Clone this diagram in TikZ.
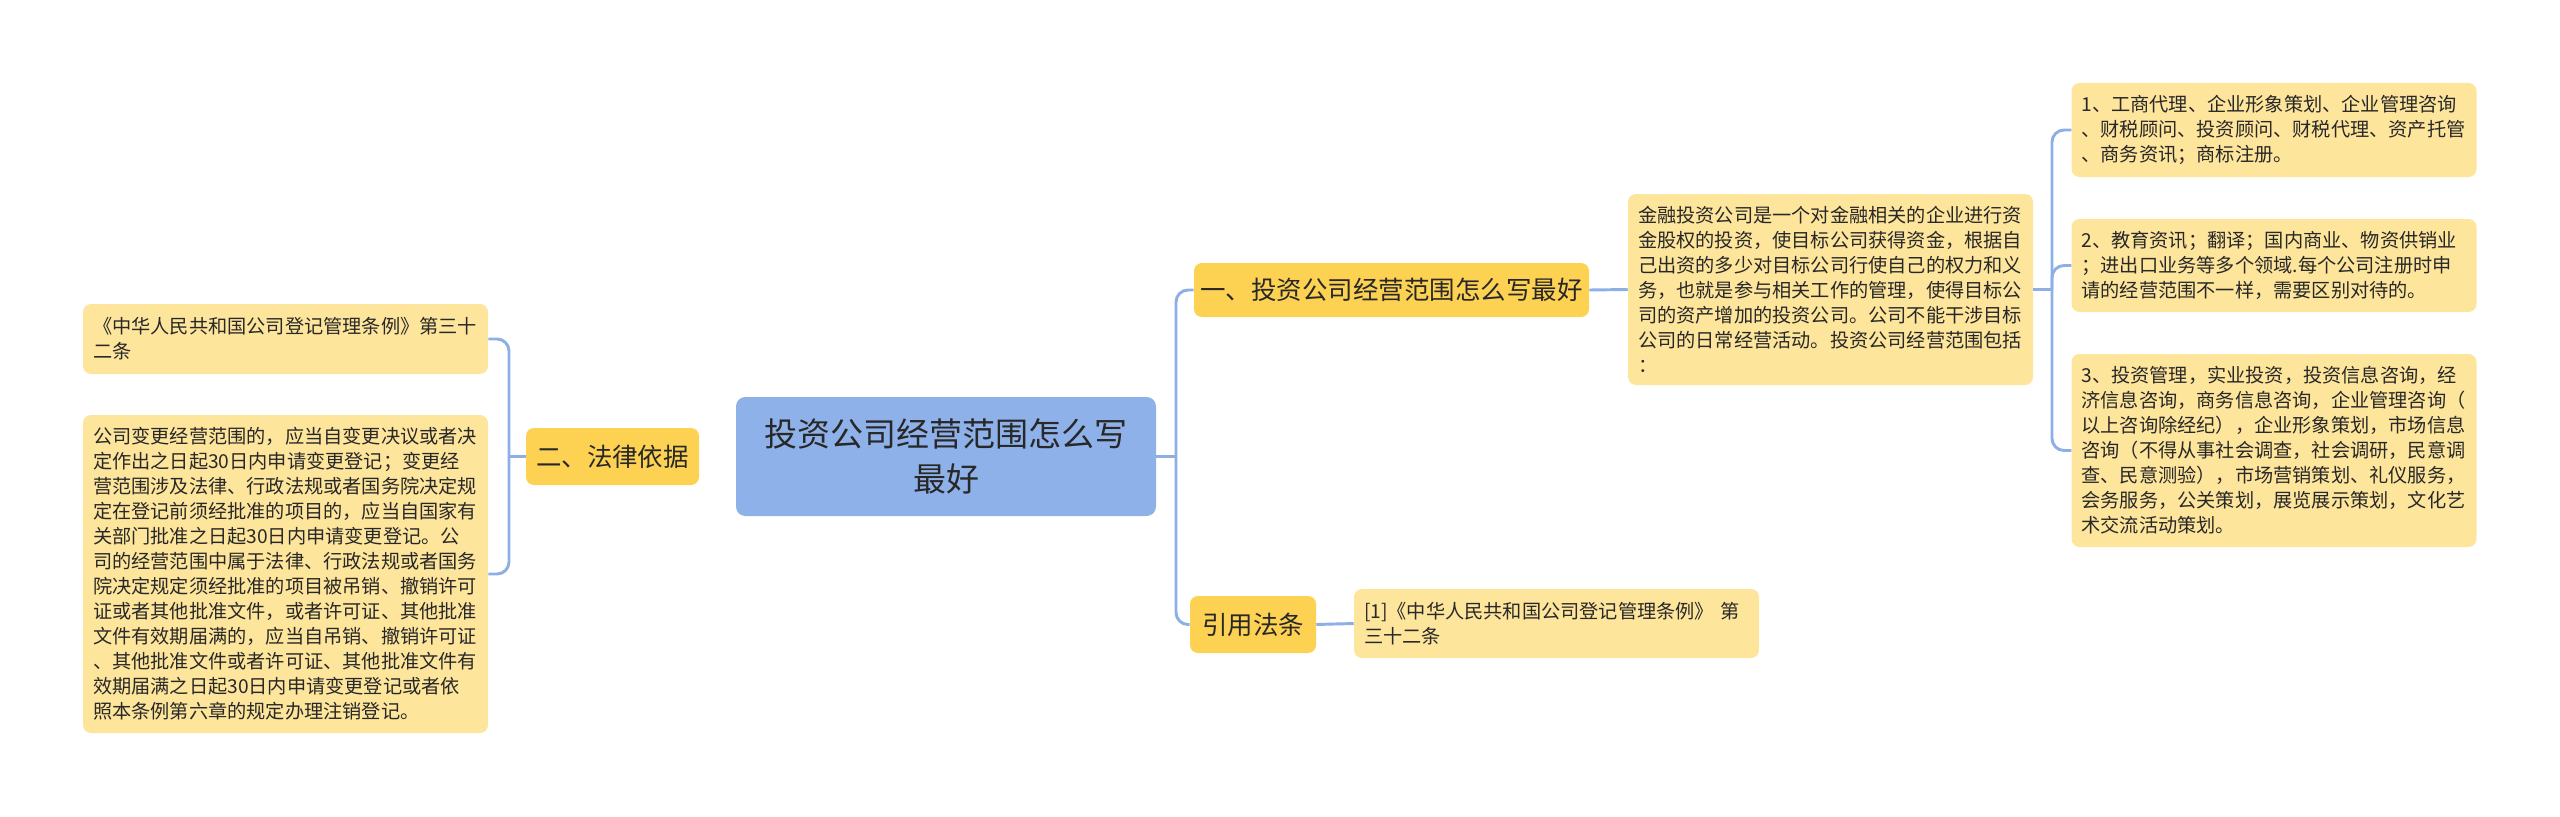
\documentclass[tikz,border=0pt]{standalone}
\usepackage{fontspec}
\setmainfont{Noto Sans CJK SC}
\definecolor{rootc}{RGB}{143,177,233}
\definecolor{lonec}{RGB}{253,209,82}
\definecolor{leafc}{RGB}{254,229,156}
\definecolor{linec}{RGB}{142,175,230}
\definecolor{txt}{RGB}{40,40,40}
\tikzset{
  rootbox/.style={fill=rootc, rounded corners=7pt, text=txt, align=center,
    font=\fontsize{24.75}{34}\selectfont, inner sep=0pt},
  lonebox/.style={fill=lonec, rounded corners=6pt, text=txt,
    font=\fontsize{19.1}{24}\selectfont, inner sep=0pt},
  leafbox/.style={fill=leafc, rounded corners=6pt, text=txt, align=left,
    font=\fontsize{14.4}{18.75}\selectfont, text width=288.75pt,
    inner xsep=7.5pt, inner ysep=0pt, minimum width=303.75pt},
  conn/.style={draw=linec, line width=2.2pt, rounded corners=9pt},
}
\begin{document}
\begin{tikzpicture}[x=0.75pt,y=-0.75pt]
\useasboundingbox (0,0) rectangle (2560,817);

% root
\node[rootbox, minimum width=420*0.75pt, minimum height=119*0.75pt] (root) at (946,456.5)
  {投资公司经营范围怎么写\\最好};

% level one
\node[lonebox, minimum width=395*0.75pt, minimum height=54*0.75pt] (one) at (1391.5,290)
  {一、投资公司经营范围怎么写最好};
\node[lonebox, minimum width=173*0.75pt, minimum height=57*0.75pt] (two) at (612.5,456.5)
  {二、法律依据};
\node[lonebox, minimum width=126*0.75pt, minimum height=57*0.75pt] (cite) at (1253,624.5)
  {引用法条};

% left leaves
\node[leafbox, minimum height=70*0.75pt] (la) at (285.5,339)
  {《中华人民共和国公司登记管理条例》第三十\\二条};
\node[leafbox, minimum height=318*0.75pt] (lb) at (285.5,574)
  {公司变更经营范围的，应当自变更决议或者决\\
   定作出之日起30日内申请变更登记；变更经\\
   营范围涉及法律、行政法规或者国务院决定规\\
   定在登记前须经批准的项目的，应当自国家有\\
   关部门批准之日起30日内申请变更登记。公\\
   司的经营范围中属于法律、行政法规或者国务\\
   院决定规定须经批准的项目被吊销、撤销许可\\
   证或者其他批准文件，或者许可证、其他批准\\
   文件有效期届满的，应当自吊销、撤销许可证\\
   、其他批准文件或者许可证、其他批准文件有\\
   效期届满之日起30日内申请变更登记或者依\\
   照本条例第六章的规定办理注销登记。};

% description
\node[leafbox, minimum height=191*0.75pt] (desc) at (1830.5,289.5)
  {金融投资公司是一个对金融相关的企业进行资\\
   金股权的投资，使目标公司获得资金，根据自\\
   己出资的多少对目标公司行使自己的权力和义\\
   务，也就是参与相关工作的管理，使得目标公\\
   司的资产增加的投资公司。公司不能干涉目标\\
   公司的日常经营活动。投资公司经营范围包括\\
   ：};

% items
\node[leafbox, minimum height=94*0.75pt] (it1) at (2274,130)
  {1、工商代理、企业形象策划、企业管理咨询\\
   、财税顾问、投资顾问、财税代理、资产托管\\
   、商务资讯；商标注册。};
\node[leafbox, minimum height=93*0.75pt] (it2) at (2274,265.5)
  {2、教育资讯；翻译；国内商业、物资供销业\\
   ；进出口业务等多个领域.每个公司注册时申\\
   请的经营范围不一样，需要区别对待的。};
\node[leafbox, minimum height=193*0.75pt] (it3) at (2274,450.5)
  {3、投资管理，实业投资，投资信息咨询，经\\
   济信息咨询，商务信息咨询，企业管理咨询（\\
   以上咨询除经纪），企业形象策划，市场信息\\
   咨询（不得从事社会调查，社会调研，民意调\\
   查、民意测验），市场营销策划、礼仪服务，\\
   会务服务，公关策划，展览展示策划，文化艺\\
   术交流活动策划。};

% reference
\node[leafbox, minimum height=69*0.75pt] (ref) at (1556.5,623.5)
  {[1]《中华人民共和国公司登记管理条例》 第\\三十二条};

% junctions
\coordinate (rj) at (1176,456.5);
\coordinate (lj) at (509,456.5);
\coordinate (ij) at (2052,289.5);

% connectors
\draw[conn] (root.east) -- (rj);
\draw[conn] (one.west) -| (rj) |- (cite.west);
\draw[conn] (two.west) -- (lj);
\draw[conn] (la.east) -| (lj) |- (lb.east);
\draw[conn] (one.east) -- (desc.west);
\draw[conn] (cite.east) -- (ref.west);
\draw[conn] (desc.east) -- (ij);
\draw[conn] (it1.west) -| (ij) |- (it3.west);
\draw[conn] (it2.west) -| (ij);
\end{tikzpicture}
\end{document}
